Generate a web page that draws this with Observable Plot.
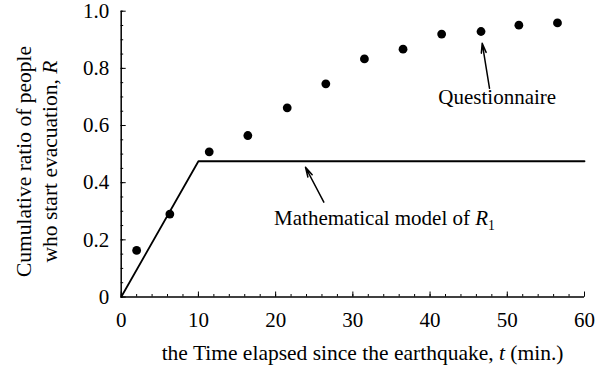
<!DOCTYPE html>
<html><head><meta charset="utf-8">
<script src="https://cdn.jsdelivr.net/npm/d3@7"></script>
<script src="https://cdn.jsdelivr.net/npm/@observablehq/plot@0.6"></script>
<style>
html,body{margin:0;padding:0;background:#fff;}
#chart svg{display:block;}
</style></head><body><div id="chart"></div>
<script>
// Questionnaire observations
const questionnaireT = [2.0, 6.3, 11.4, 16.4, 21.5, 26.5, 31.5, 36.5, 41.5, 46.6, 51.5, 56.5];
const questionnaireR = [0.163, 0.290, 0.508, 0.565, 0.662, 0.746, 0.833, 0.867, 0.920, 0.929, 0.951, 0.959];
// Mathematical model R1
const modelT = [0, 10, 60];
const modelR = [0, 0.475, 0.475];
// Ticks
const xTicks = [0, 10, 20, 30, 40, 50, 60];
const xTickLabels = ["0", "10", "20", "30", "40", "50", "60"];
const xMinorTicks = d3.range(0, 31).map(i => i * 2);
const yTicks = [0, 0.2, 0.4, 0.6, 0.8, 1.0];
const yTickLabels = ["0", "0.2", "0.4", "0.6", "0.8", "1.0"];
const yMinorTicks = d3.range(0, 21).map(i => i / 20);
// Annotations
const annotationTexts = ["Questionnaire", "Mathematical model of *R*_1"];
const annotationT = [48.7, 34.1];
const annotationR = [0.70, 0.274];
const arrowFromT = [47.7, 26.24];
const arrowFromR = [0.73, 0.332];
const arrowToT = [46.75, 23.87];
const arrowToR = [0.888, 0.454];
const xLabel = "the Time elapsed since the earthquake, *t* (min.)";
const yLabel = "Cumulative ratio of people\nwho start evacuation, *R*";

const points = questionnaireT.map((t, i) => ({t, r: questionnaireR[i]}));
const model = modelT.map((t, i) => ({t, r: modelR[i]}));
const notes = annotationTexts.map((text, i) => ({text, t: annotationT[i], r: annotationR[i]}));
const arrows = arrowFromT.map((t, i) => ({t1: t, r1: arrowFromR[i], t2: arrowToT[i], r2: arrowToR[i]}));

const plot = Plot.plot({
  width: 602, height: 373,
  marginLeft: 120.7, marginRight: 18, marginTop: 10.7, marginBottom: 76.5,
  style: {fontFamily: "'Liberation Serif', 'Times New Roman', serif", fontSize: "21px", color: "#000", background: "#fff", overflow: "visible"},
  x: {domain: [0, 60], label: null},
  y: {domain: [0, 1], label: null},
  marks: [
    // inward tick marks (minor and major)
    Plot.ruleX(xMinorTicks, {x: d => d, y1: 0, y2: 0, insetBottom: 2.5, stroke: "#000", strokeWidth: 1}),
    Plot.ruleX(xTicks, {x: d => d, y1: 0, y2: 0, insetBottom: 5, stroke: "#000", strokeWidth: 1}),
    Plot.ruleY(yMinorTicks, {y: d => d, x1: 0, x2: 0, insetRight: -2.5, stroke: "#000", strokeWidth: 1}),
    Plot.ruleY(yTicks, {y: d => d, x1: 0, x2: 0, insetRight: -5, stroke: "#000", strokeWidth: 1}),
    Plot.axisX(xTicks, {tickSize: 0, tickPadding: 15, label: null, tickFormat: d => xTickLabels[xTicks.indexOf(d)]}),
    Plot.axisY(yTicks, {tickSize: 0, tickPadding: 12, label: null, tickFormat: d => yTickLabels[yTicks.indexOf(d)]}),
    Plot.ruleX([0], {strokeWidth: 1.5}),
    Plot.ruleY([0], {strokeWidth: 1.5}),
    Plot.line(model, {x: "t", y: "r", stroke: "#000", strokeWidth: 1.8}),
    Plot.dot(points, {x: "t", y: "r", fill: "#000", r: 4.4}),
    Plot.arrow(arrows, {x1: "t1", y1: "r1", x2: "t2", y2: "r2", stroke: "#000", strokeWidth: 1.5, headLength: 10, headAngle: 28}),
    Plot.text(notes, {x: "t", y: "r", text: "text", fill: "#000", lineAnchor: "middle"}),
    Plot.text([xLabel], {frameAnchor: "bottom", dx: 9.7, dy: 56, textAnchor: "middle", lineAnchor: "middle", fill: "#000", fontSize: 21.5}),
    Plot.text([yLabel], {frameAnchor: "left", rotate: -90, dx: -85.85, dy: 7.4, textAnchor: "middle", lineAnchor: "middle", lineHeight: 1.24, fill: "#000", fontSize: 21.5})
  ]
});

// Convert simple markup (*italic*, _subscript) into tspans
d3.select(plot).selectAll("text, tspan").each(function() {
  if (this.childElementCount) return;
  const s = this.textContent;
  if (!/[*_]/.test(s)) return;
  this.textContent = "";
  const parts = s.split(/(\*[^*]+\*|_\w)/).filter(p => p.length);
  for (const p of parts) {
    const ts = document.createElementNS("http://www.w3.org/2000/svg", "tspan");
    if (p.startsWith("*")) {
      ts.textContent = p.slice(1, -1);
      ts.setAttribute("font-style", "italic");
    } else if (p.startsWith("_")) {
      ts.textContent = p.slice(1);
      ts.setAttribute("font-size", "0.65em");
      ts.setAttribute("dy", "0.3em");
    } else {
      ts.textContent = p;
    }
    this.appendChild(ts);
  }
});

document.getElementById("chart").appendChild(plot);
</script>
</body></html>
